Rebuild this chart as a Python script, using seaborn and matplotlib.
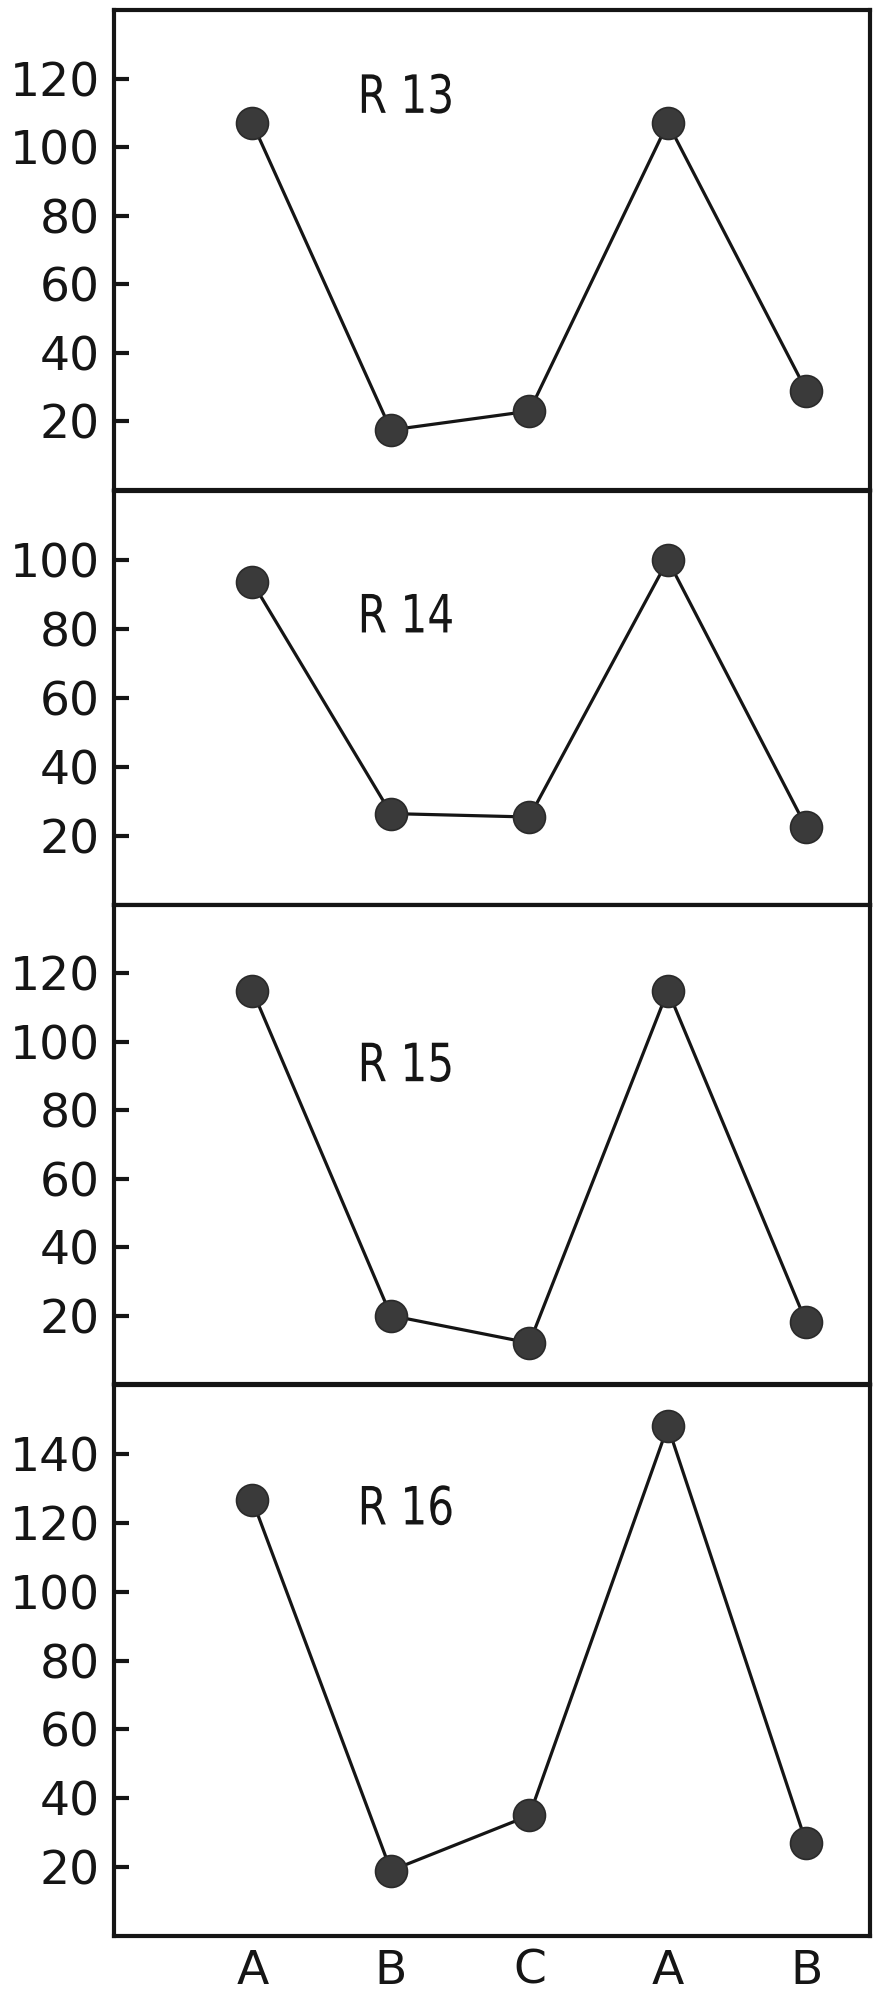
import matplotlib
matplotlib.use("Agg")
import matplotlib.pyplot as plt
import matplotlib.patheffects as pe
from matplotlib.transforms import Affine2D
import seaborn as sns
import numpy as np
import pandas as pd

# ---- data ----
categories = ["A", "B", "C", "A", "B"]
positions = [0, 1, 2, 3, 4]
r13 = [107, 17.5, 23, 107, 29]
r14 = [93.5, 26.5, 25.5, 100, 22.5]
r15 = [115, 20, 12, 115, 18]
r16 = [126.5, 19, 35, 148, 27]
panel_names = ["R 13", "R 14", "R 15", "R 16"]
series = [r13, r14, r15, r16]
ymax = [140, 120, 140, 160]
yticks = [[20, 40, 60, 80, 100, 120],
          [20, 40, 60, 80, 100],
          [20, 40, 60, 80, 100, 120],
          [20, 40, 60, 80, 100, 120, 140]]
label_y = [110, 79, 88.5, 119.5]


class Squeeze(pe.AbstractPathEffect):
    """Horizontally condense text glyphs about the text's left anchor."""
    def __init__(self, sx=0.8):
        super().__init__()
        self.sx = sx

    def draw_path(self, renderer, gc, tpath, affine, rgbFace=None):
        new_affine = Affine2D().scale(self.sx, 1.0) + affine
        renderer.draw_path(gc, tpath, new_affine, rgbFace)


sns.set_theme(style="white")
plt.rcParams["font.family"] = ["DejaVu Sans"]

fig = plt.figure(figsize=(8.75, 19.94), dpi=100)
H = 1994.0
W = 875.0
extents = [(10, 490), (491, 905), (905, 1384), (1385, 1936)]
left_px, right_px = 114, 870

ink = "#151515"
dot = "#3a3a3a"

for i, (vals, name) in enumerate(zip(series, panel_names)):
    top, bot = extents[i]
    ax = fig.add_axes([left_px / W, 1 - bot / H, (right_px - left_px) / W, (bot - top) / H])
    df = pd.DataFrame({"pos": positions, "val": vals})
    sns.lineplot(data=df, x="pos", y="val", ax=ax, color=ink, linewidth=2.3,
                 marker="o", markersize=23, markerfacecolor=dot,
                 markeredgecolor="#2a2a2a", markeredgewidth=1.2, sort=False)
    ax.set_xlim(-1.0, 4.46)
    ax.set_ylim(0, ymax[i])
    ax.set_yticks(yticks[i])
    ax.set_yticklabels([str(t) for t in yticks[i]])
    ax.set_xlabel("")
    ax.set_ylabel("")
    ax.tick_params(axis="y", which="major", direction="in", length=11, width=3,
                   color=ink, labelsize=34, pad=10, labelcolor=ink,
                   left=True, right=False)
    if i == 3:
        ax.set_xticks(positions)
        ax.set_xticklabels(categories)
        ax.tick_params(axis="x", length=0, labelsize=34, pad=9, labelcolor=ink)
    else:
        ax.set_xticks([])
    for sp in ax.spines.values():
        sp.set_visible(True)
        sp.set_color(ink)
        sp.set_linewidth(3)
    ax.text(0.76, label_y[i], name, fontsize=38, color=ink,
            ha="left", va="baseline", path_effects=[Squeeze(0.8)])
    ax.set_facecolor("white")

fig.savefig("out.png", dpi=100, facecolor="white")
